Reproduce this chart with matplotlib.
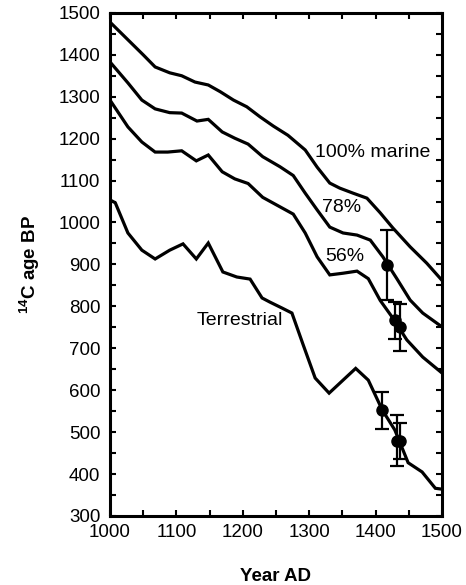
import numpy as np
import matplotlib
matplotlib.use("Agg")
import matplotlib.pyplot as plt
from matplotlib.ticker import MultipleLocator

plt.rcParams['font.family'] = ['Liberation Sans', 'DejaVu Sans']
plt.rcParams['mathtext.default'] = 'regular'

# curves (year AD, 14C age BP)
marine_x = [1000, 1050, 1068, 1090, 1108, 1128, 1148, 1166, 1186, 1206, 1226, 1246,
            1268, 1294, 1312, 1331, 1346, 1366, 1387, 1407, 1426, 1452, 1477, 1500]
marine_y = [1478, 1400, 1371, 1357, 1350, 1335, 1328, 1312, 1292, 1276, 1252, 1230,
            1208, 1173, 1132, 1094, 1082, 1070, 1058, 1023, 987, 942, 903, 862]

m78_x = [1000, 1027, 1048, 1068, 1090, 1108, 1131, 1148, 1169, 1188, 1208, 1230,
         1256, 1276, 1294, 1312, 1331, 1351, 1372, 1392, 1411, 1432, 1452, 1471, 1500]
m78_y = [1383, 1333, 1292, 1271, 1262, 1261, 1242, 1246, 1216, 1201, 1187, 1157,
         1133, 1112, 1070, 1030, 989, 975, 970, 958, 918, 866, 815, 784, 751]

m56_x = [1000, 1027, 1048, 1068, 1087, 1108, 1130, 1148, 1169, 1188, 1208, 1230,
         1253, 1276, 1294, 1312, 1331, 1351, 1372, 1389, 1407, 1426, 1447, 1471, 1500]
m56_y = [1292, 1228, 1192, 1168, 1168, 1171, 1147, 1161, 1121, 1104, 1093, 1060,
         1040, 1020, 975, 918, 875, 879, 884, 866, 814, 772, 720, 679, 641]

terr_x = [1000, 1008, 1027, 1048, 1068, 1090, 1110, 1130, 1148, 1170, 1191, 1211,
          1229, 1241, 1259, 1274, 1291, 1309, 1330, 1351, 1370, 1389, 1410, 1429,
          1449, 1470, 1490, 1500]
terr_y = [1054, 1047, 975, 934, 913, 934, 949, 913, 951, 882, 870, 865,
          820, 810, 796, 784, 708, 629, 593, 624, 652, 624, 553, 505,
          427, 405, 366, 364]

# dated samples with error bars
pt_x = [1417, 1429, 1437, 1410, 1432, 1437]
pt_y = [899, 768, 750, 553, 480, 480]
pt_hi = [983, 810, 805, 596, 540, 521]
pt_lo = [814, 722, 694, 507, 419, 437]

labels = ["100% marine", "78%", "56%", "Terrestrial"]
label_x = [1396, 1349, 1354, 1196]
label_y = [1166, 1035, 918, 767]

fig = plt.figure(figsize=(4.66, 5.85), dpi=100)
ax = fig.add_axes([0.236, 0.118, 0.7125, 0.86])

for xs, ys in [(marine_x, marine_y), (m78_x, m78_y), (m56_x, m56_y), (terr_x, terr_y)]:
    ax.plot(xs, ys, color='black', lw=2.3, solid_joinstyle='miter')

pt_y = np.array(pt_y)
yerr = [pt_y - np.array(pt_lo), np.array(pt_hi) - pt_y]
ax.errorbar(pt_x, pt_y, yerr=yerr, fmt='o', color='black', ms=8,
            elinewidth=1.6, capsize=5, capthick=1.6, zorder=5)

for t, x, y in zip(labels, label_x, label_y):
    ax.text(x, y, t, ha='center', va='center', fontsize=14)

ax.set_xlim(1000, 1500)
ax.set_ylim(300, 1500)
ax.xaxis.set_major_locator(MultipleLocator(100))
ax.xaxis.set_minor_locator(MultipleLocator(50))
ax.yaxis.set_major_locator(MultipleLocator(100))
ax.yaxis.set_minor_locator(MultipleLocator(50))
ax.tick_params(which='both', direction='in', top=True, right=True,
               length=4, width=1.5, labelsize=13.5)
ax.tick_params(axis='x', pad=6)
ax.tick_params(axis='y', pad=7)
for s in ax.spines.values():
    s.set_linewidth(2.2)

ax.set_xlabel("Year AD", fontweight='bold', fontsize=13.5, labelpad=19)
ax.set_ylabel("$^{14}$C age BP", fontweight='bold', fontsize=13.5, labelpad=12)

fig.savefig("out.png", dpi=100)
